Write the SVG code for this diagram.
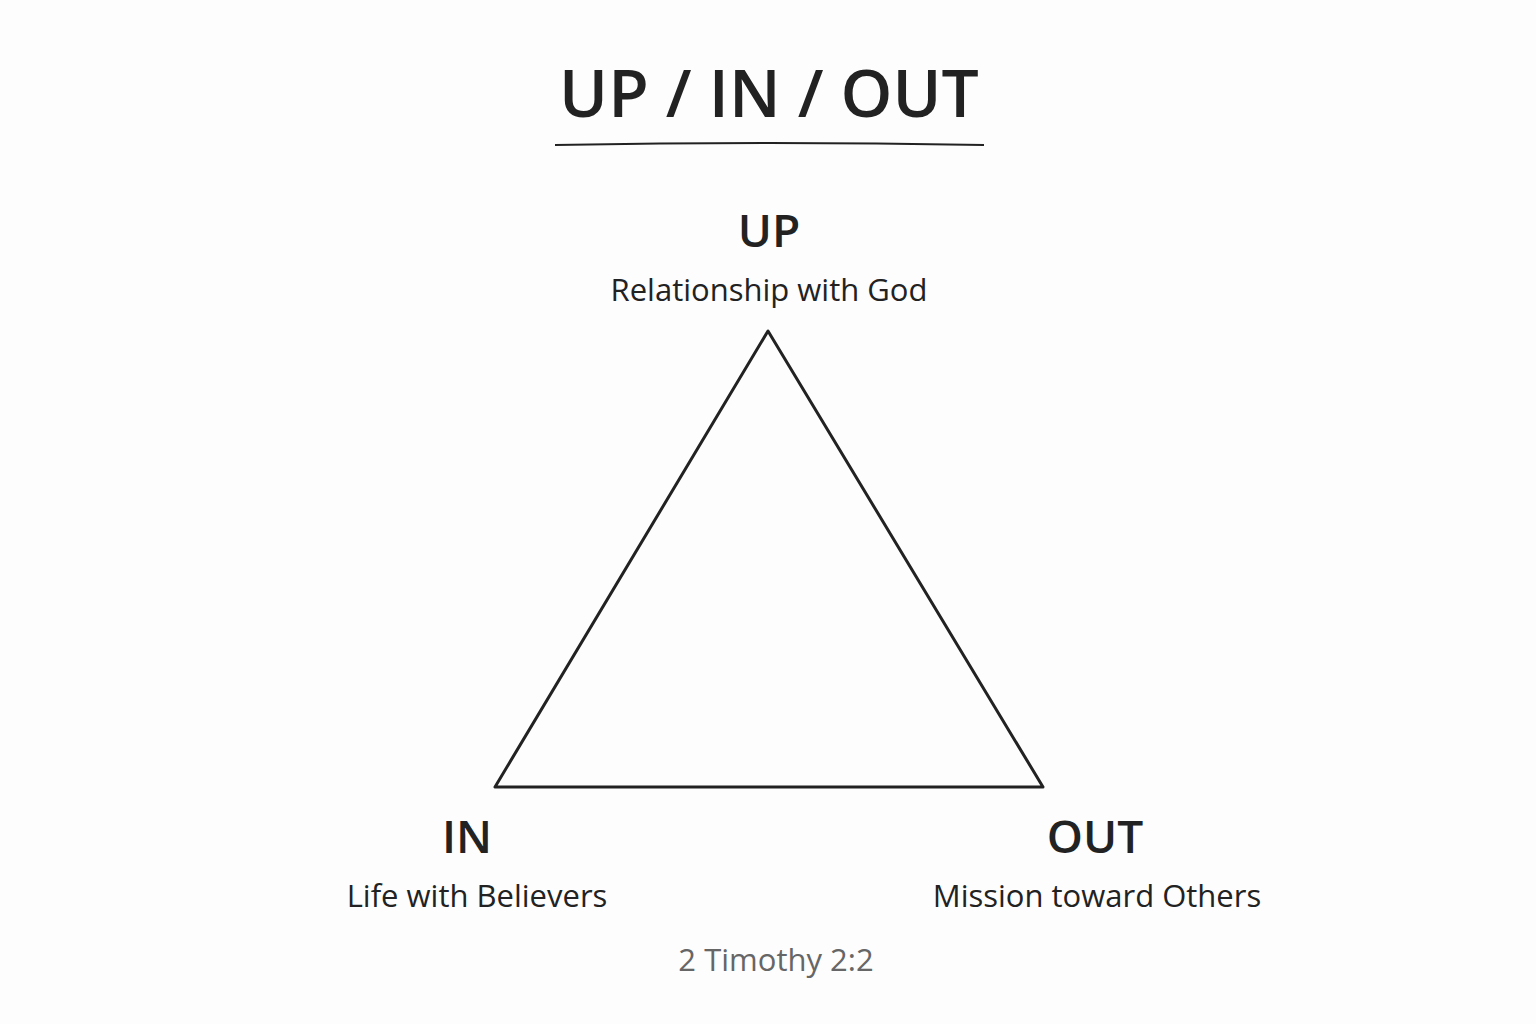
<svg xmlns="http://www.w3.org/2000/svg" width="1536" height="1024" viewBox="0 0 1536 1024">
<style>
text{font-family:"Open Sans","Noto Sans",sans-serif;fill:#222;text-anchor:middle}
.h{font-size:46px;font-weight:600}
.s{font-size:31px}
</style>
<rect width="1536" height="1024" fill="#fdfdfd"/>
<g id="title"><text x="769" y="117" style="font-size:66px;font-weight:600">UP / IN / OUT</text>
<path d="M555 145 Q770 141 984 145" stroke="#222" stroke-width="2" fill="none"/></g>
<g id="connectors"><polygon points="768,331 495,787 1043,787" fill="none" stroke="#222" stroke-width="3" stroke-linejoin="round"/></g>
<g id="up"><text class="h" x="769" y="247">UP</text><text class="s" x="769" y="301">Relationship with God</text></g>
<g id="in"><text class="h" x="467" y="853">IN</text><text class="s" x="477" y="907">Life with Believers</text></g>
<g id="out"><text class="h" x="1095" y="853">OUT</text><text class="s" x="1097" y="907">Mission toward Others</text></g>
<g id="ref"><text x="776" y="971" style="font-size:31px;fill:#666">2 Timothy 2:2</text></g>
</svg>
